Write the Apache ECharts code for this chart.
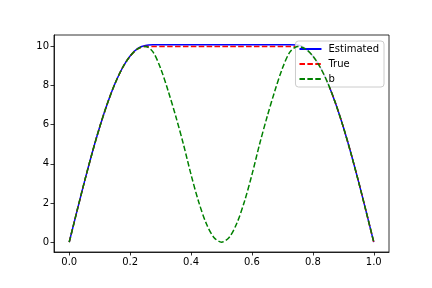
<!DOCTYPE html>
<html>
<head>
<meta charset="utf-8">
<script src="https://cdn.jsdelivr.net/npm/echarts@6/dist/echarts.min.js"></script>
<style>html,body{margin:0;padding:0;background:#fff}#c{width:432px;height:288px}</style>
</head>
<body>
<div id="c"></div>
<script>
var xs = [0, 0.025, 0.05, 0.075, 0.1, 0.125, 0.15, 0.175, 0.2, 0.225, 0.25,
  0.275, 0.3, 0.325, 0.35, 0.375, 0.4, 0.425, 0.45, 0.475, 0.5,
  0.525, 0.55, 0.575, 0.6, 0.625, 0.65, 0.675, 0.7, 0.725, 0.75,
  0.775, 0.8, 0.825, 0.85, 0.875, 0.9, 0.925, 0.95, 0.975, 1.0];
var estimated = [0, 1.56, 3.09, 4.54, 5.88, 7.07, 8.09, 8.91, 9.51, 9.9, 10.05,
  10.08, 10.08, 10.08, 10.08, 10.08, 10.08, 10.08, 10.08, 10.08, 10.08,
  10.08, 10.08, 10.08, 10.08, 10.08, 10.08, 10.08, 10.08, 10.08, 10.07,
  9.9, 9.51, 8.91, 8.09, 7.07, 5.88, 4.54, 3.09, 1.56, 0];
var trueVals = [0, 1.56, 3.09, 4.54, 5.88, 7.07, 8.09, 8.91, 9.51, 9.88, 10,
  10, 10, 10, 10, 10, 10, 10, 10, 10, 10,
  10, 10, 10, 10, 10, 10, 10, 10, 10, 10,
  9.88, 9.51, 8.91, 8.09, 7.07, 5.88, 4.54, 3.09, 1.56, 0];
var bVals = [0, 1.56, 3.09, 4.54, 5.88, 7.07, 8.09, 8.91, 9.51, 9.88, 10,
  9.72, 8.88, 7.72, 6.42, 5.0, 3.45, 2.06, 0.95, 0.24, 0,
  0.24, 0.95, 2.06, 3.45, 5.0, 6.42, 7.72, 8.88, 9.72, 10,
  9.88, 9.51, 8.91, 8.09, 7.07, 5.88, 4.54, 3.09, 1.56, 0];
var xTicks = [0, 0.2, 0.4, 0.6, 0.8, 1.0];
var yTicks = [0, 2, 4, 6, 8, 10];
var seriesNames = ['Estimated', 'True', 'b'];

function pairs(vals) { return xs.map(function (x, i) { return [x, vals[i]]; }); }

var chart = echarts.init(document.getElementById('c'), null, {renderer: 'canvas'});
var font = 'DejaVu Sans';
chart.setOption({
  animation: false,
  backgroundColor: '#fff',
  grid: {left: 54, right: 43, top: 35, bottom: 36, show: true, borderColor: '#000', borderWidth: 0.8, backgroundColor: 'transparent'},
  xAxis: {
    type: 'value', min: -0.05, max: 1.05,
    axisLine: {show: true, onZero: false, lineStyle: {color: '#000', width: 0.8}},
    axisTick: {show: true, length: 3.5, lineStyle: {color: '#000', width: 0.8}, customValues: xTicks},
    axisLabel: {color: '#000', fontFamily: font, fontSize: 10, margin: 5, customValues: xTicks,
      formatter: function (v) { return v.toFixed(1); }},
    splitLine: {show: false}
  },
  yAxis: {
    type: 'value', min: -0.504, max: 10.584,
    axisLine: {show: true, onZero: false, lineStyle: {color: '#000', width: 0.8}},
    axisTick: {show: true, length: 3.5, lineStyle: {color: '#000', width: 0.8}, customValues: yTicks},
    axisLabel: {color: '#000', fontFamily: font, fontSize: 10, margin: 5, customValues: yTicks,
      formatter: function (v) { return String(Math.round(v)); }},
    splitLine: {show: false}
  },
  legend: {
    orient: 'vertical', right: 48, top: 41,
    data: seriesNames,
    itemWidth: 22, itemHeight: 10, itemGap: 5,
    padding: [3, 5, 3, 3],
    backgroundColor: 'rgba(255,255,255,0.8)',
    borderColor: '#cccccc', borderWidth: 1, borderRadius: 3,
    itemStyle: {color: 'rgba(0,0,0,0)', borderColor: 'rgba(0,0,0,0)', borderWidth: 0, opacity: 0},
    textStyle: {fontFamily: font, fontSize: 10, color: '#000', padding: [0, 0, 0, 2]}
  },
  series: [
    {name: seriesNames[0], type: 'line', data: pairs(estimated), smooth: 0.3, symbol: 'none',
      lineStyle: {color: '#0000ff', width: 1.5}, itemStyle: {color: '#0000ff'}, z: 2},
    {name: seriesNames[1], type: 'line', data: pairs(trueVals), smooth: 0.3, symbol: 'none',
      lineStyle: {color: '#ff0000', width: 1.5, type: [5.5, 2.4]}, itemStyle: {color: '#ff0000'}, z: 3},
    {name: seriesNames[2], type: 'line', data: pairs(bVals), smooth: 0.3, symbol: 'none',
      lineStyle: {color: '#008000', width: 1.5, type: [5.5, 2.4]}, itemStyle: {color: '#008000'}, z: 4}
  ]
});
</script>
</body>
</html>
